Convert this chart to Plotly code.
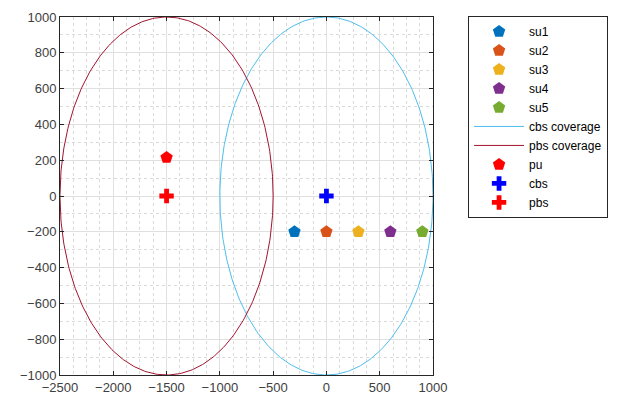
import numpy as np
import plotly.graph_objects as go

# data
su_names = ["su1", "su2", "su3", "su4", "su5"]
su_x = [-300, 0, 300, 600, 900]
su_y = [-200, -200, -200, -200, -200]
su_colors = ["#0072BD", "#D95319", "#EDB120", "#7E2F8E", "#77AC30"]

cbs_center = [0, 0]
pbs_center = [-1500, 0]
coverage_radius = 1000
pu_pos = [-1500, 215]

x_ticks = [-2500, -2000, -1500, -1000, -500, 0, 500, 1000]
y_ticks = [-1000, -800, -600, -400, -200, 0, 200, 400, 600, 800, 1000]

fig = go.Figure()

for n, x, y, c in zip(su_names, su_x, su_y, su_colors):
    fig.add_trace(go.Scatter(x=[x], y=[y], mode="markers", name=n,
                             marker=dict(symbol="pentagon", size=13, color=c,
                                         line=dict(width=0))))

t = np.linspace(0, 2 * np.pi, 400)
fig.add_trace(go.Scatter(x=cbs_center[0] + coverage_radius * np.cos(t),
                         y=cbs_center[1] + coverage_radius * np.sin(t),
                         mode="lines", name="cbs coverage",
                         line=dict(color="#4DBEEE", width=1)))
fig.add_trace(go.Scatter(x=pbs_center[0] + coverage_radius * np.cos(t),
                         y=pbs_center[1] + coverage_radius * np.sin(t),
                         mode="lines", name="pbs coverage",
                         line=dict(color="#A2142F", width=1)))

fig.add_trace(go.Scatter(x=[pu_pos[0]], y=[pu_pos[1]], mode="markers", name="pu",
                         marker=dict(symbol="pentagon", size=13, color="#FF0000")))
fig.add_trace(go.Scatter(x=[cbs_center[0]], y=[cbs_center[1]], mode="markers", name="cbs",
                         marker=dict(symbol="cross", size=12, color="#0000FF")))
fig.add_trace(go.Scatter(x=[pbs_center[0]], y=[pbs_center[1]], mode="markers", name="pbs",
                         marker=dict(symbol="cross", size=12, color="#FF0000")))

axis_common = dict(showline=True, linecolor="#262626", linewidth=1, mirror="ticks",
                   ticks="inside", ticklen=4, tickcolor="#262626", automargin=False,
                   showgrid=True, gridcolor="#E0E0E0", gridwidth=1, zeroline=False,
                   tickfont=dict(family="Liberation Sans, Arial", size=13, color="#404040"))

fig.update_xaxes(range=[-2500, 1000], tickvals=x_ticks, **axis_common,
                 minor=dict(dtick=125, tick0=-2500, showgrid=True, gridcolor="#DADADA",
                            griddash="dot", gridwidth=1, ticks=""))
fig.update_yaxes(range=[-1000, 1000], tickvals=y_ticks, **axis_common,
                 minor=dict(dtick=100, tick0=-1000, showgrid=True, gridcolor="#DADADA",
                            griddash="dot", gridwidth=1, ticks=""))

fig.update_layout(
    width=622, height=398,
    margin=dict(l=60, r=189, t=17, b=23),
    plot_bgcolor="white", paper_bgcolor="white",
    showlegend=True,
    legend=dict(x=1.094, y=1.003, xanchor="left", yanchor="top",
                bordercolor="#262626", borderwidth=1, bgcolor="white",
                font=dict(family="Liberation Sans, Arial", size=12, color="#000000"),
                itemwidth=50, tracegroupgap=0, maxheight=1),
)

fig.write_html("out.html")
